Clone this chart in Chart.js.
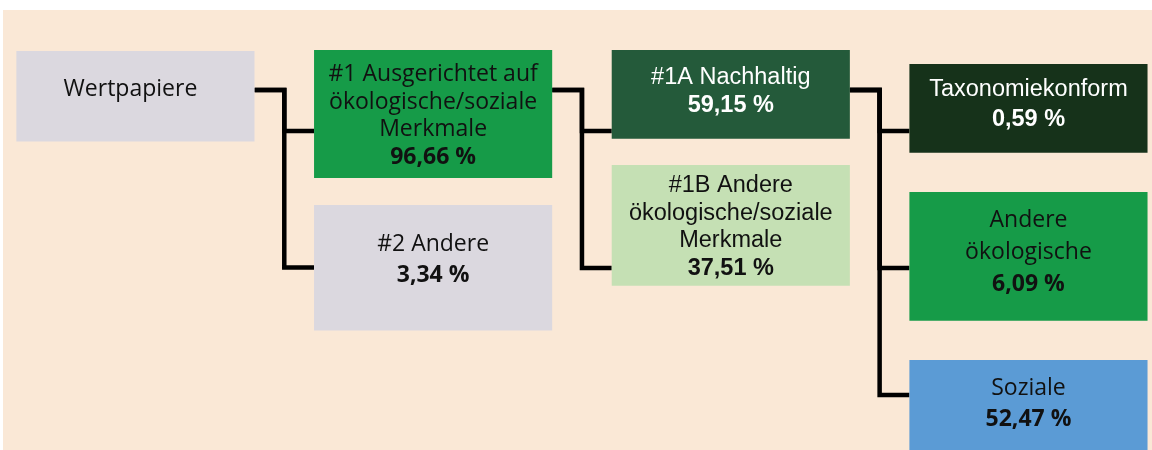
<!DOCTYPE html>
<html>
<head>
<meta charset="utf-8">
<script src="https://cdn.jsdelivr.net/npm/chart.js@4.4.1/dist/chart.umd.min.js"></script>
<style>
    html, body { margin: 0; padding: 0; background: #fff; }
    #wrap { position: relative; width: 1152px; height: 450px; overflow: hidden; }
    #bg { position: absolute; left: 3px; top: 10px; right: 0; bottom: 0; background: #FAE8D6; }
    #tree { position: absolute; left: 0; top: 0; }
</style>
</head>
<body>
<div id="wrap">
    <div id="bg"></div>
    <canvas id="tree" width="1152" height="450"></canvas>
</div>
<script>
// Baum: Wertpapiere -> #1 / #2 -> #1A / #1B -> Taxonomie / Andere / Soziale
const nodeLabels = [
    ['Wertpapiere'],
    ['#1 Ausgerichtet auf', 'ökologische/soziale', 'Merkmale'],
    ['#2 Andere'],
    ['#1A Nachhaltig'],
    ['#1B Andere', 'ökologische/soziale', 'Merkmale'],
    ['Taxonomiekonform'],
    ['Andere', 'ökologische'],
    ['Soziale'],
];
const nodeShares = [null, 96.66, 3.34, 59.15, 37.51, 0.59, 6.09, 52.47];
const nodeLevel = [0, 1, 1, 2, 2, 3, 3, 3];
const nodeParent = [-1, 0, 0, 1, 1, 3, 3, 3];

// Layout (y-Einheiten, oben = 0)
const boxTop = [51, 50, 205, 50, 165, 64, 192, 360];
const boxBottom = [141.5, 178, 330.5, 138.7, 285.7, 152.7, 320.7, 470];
const exitY = [90, 90, null, 90, null, null, null, null];
const entryY = [null, 131, 267.5, 131, 268, 131, 268, 395];
const textY = [89, 116, 259.5, 92, 227, 105, 252, 403.5];
const textDx = [-5, 0, 0, 0, 0, 0, 0, 0];
const lineH = [0, 27.5, 31, 28, 27.7, 30, 32, 31];

const boxColor = ['#DBD8DF', '#169B48', '#DBD8DF', '#245A3A', '#C5E0B4', '#16321A', '#169B48', '#5B9BD5'];
const textColor = ['#111', '#111', '#111', '#fff', '#111', '#fff', '#111', '#111'];
const CALIBRI = '"Open Sans", sans-serif';
const ARIAL = '"Liberation Sans", Arial, sans-serif';
const fontFam = [CALIBRI, CALIBRI, CALIBRI, ARIAL, ARIAL, ARIAL, CALIBRI, CALIBRI];
const fontSize = [23, 23, 23, 23.5, 23.5, 23.5, 23, 23];

const BAR_PCT = 0.8;
const HALF = BAR_PCT / 2;

function fmtShare(v) {
    return v.toFixed(2).replace('.', ',') + ' %';
}

const boxes = {
    type: 'bar',
    data: nodeLevel.map((lvl, i) => ({ x: lvl, y: [boxTop[i], boxBottom[i]] })),
    backgroundColor: boxColor,
    borderWidth: 0,
    borderSkipped: false,
    grouped: false,
    categoryPercentage: 1,
    barPercentage: BAR_PCT,
    order: 1,
};

let links = [];
nodeParent.forEach((p, i) => {
    if (p < 0) return;
    let l = nodeLevel[p];
    links.push({
        type: 'line',
        data: [
            { x: l + HALF, y: exitY[p] },
            { x: l + 0.5, y: exitY[p] },
            { x: l + 0.5, y: entryY[i] },
            { x: l + 1 - HALF, y: entryY[i] },
        ],
        borderColor: '#000',
        borderWidth: 4.5,
        borderJoinStyle: 'miter',
        borderCapStyle: 'butt',
        pointRadius: 0,
        fill: false,
        tension: 0,
        order: 2,
    });
});

const boxText = {
    id: 'boxText',
    afterDatasetsDraw(chart) {
        const ctx = chart.ctx;
        const yScale = chart.scales.y;
        chart.getDatasetMeta(0).data.forEach((bar, i) => {
            let lines = nodeLabels[i].map(t => ({ t: t, bold: false }));
            if (nodeShares[i] !== null) lines.push({ t: fmtShare(nodeShares[i]), bold: true });
            let cy = yScale.getPixelForValue(textY[i]);
            let y0 = cy - (lines.length - 1) * lineH[i] / 2;
            ctx.save();
            ctx.textAlign = 'center';
            ctx.textBaseline = 'middle';
            ctx.fillStyle = textColor[i];
            lines.forEach((ln, k) => {
                ctx.font = (ln.bold ? 'bold ' : '') + fontSize[i] + 'px ' + fontFam[i];
                ctx.fillText(ln.t, bar.x + textDx[i], y0 + k * lineH[i]);
            });
            ctx.restore();
        });
    }
};

new Chart(document.getElementById('tree'), {
    type: 'bar',
    data: {
        datasets: [boxes].concat(links),
    },
    options: {
        responsive: false,
        animation: false,
        devicePixelRatio: 1,
        events: [],
        layout: { padding: 0 },
        plugins: {
            legend: { display: false },
            tooltip: { enabled: false },
        },
        scales: {
            x: {
                type: 'linear',
                min: -0.455,
                max: 3.415,
                offset: false,
                display: false,
                ticks: { stepSize: 1, includeBounds: false },
            },
            y: {
                type: 'linear',
                min: 0,
                max: 450,
                reverse: true,
                beginAtZero: false,
                display: false,
            },
        },
    },
    plugins: [boxText],
});
</script>
</body>
</html>
